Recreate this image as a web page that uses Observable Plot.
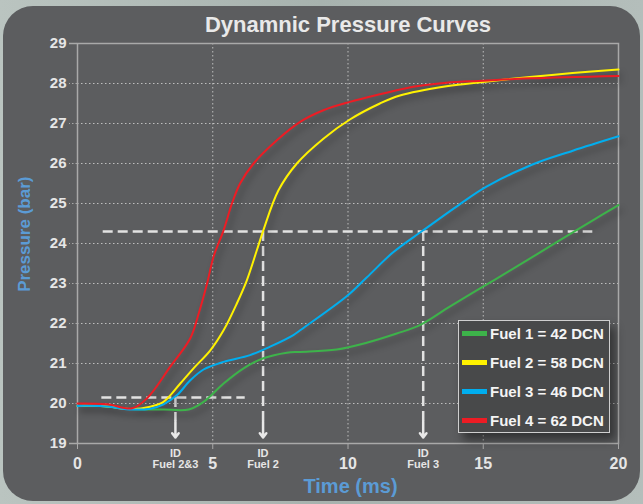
<!DOCTYPE html>
<html><head><meta charset="utf-8">
<script src="https://cdn.jsdelivr.net/npm/d3@7"></script>
<script src="https://cdn.jsdelivr.net/npm/@observablehq/plot@0.6"></script>
<style>
html,body{margin:0;padding:0;background:#aeb9b5;}
#wrap{position:relative;width:643px;height:504px;overflow:hidden;background:linear-gradient(90deg,#bac4c0,#a7b2ae 50%,#b4bebb);}
#panel{position:absolute;left:3px;top:6px;width:637px;height:495px;background:#5c5d5f;border-radius:30px;}
#chart{position:absolute;left:0;top:0;}
#legend{position:absolute;left:458px;top:320px;width:152px;height:113px;background:#48494a;border:1.5px solid #cfcfcf;box-shadow:5px 7px 9px rgba(0,0,0,0.45);box-sizing:border-box;font:bold 15px "Liberation Sans",Arial,sans-serif;color:#f4f4f4;}
.row{position:absolute;left:3px;height:20px;display:flex;align-items:center;white-space:nowrap;}
.sw{width:25px;height:5px;margin-right:3px;}
</style></head>
<body>
<div id="wrap"><div id="panel"></div><div id="chart"></div><div id="legend"></div></div>
<script>
// ---- data ----
const fuelNames = ["Fuel 1 = 42 DCN", "Fuel 2 = 58 DCN", "Fuel 3 = 46 DCN", "Fuel 4 = 62 DCN"];
const fuelColors = ["#3db34a", "#fff200", "#00aeef", "#ed1c24"];

const fuel1T = [0, 1.0, 2.0, 2.7, 3.2, 4.11, 4.66, 5.40, 6.14, 6.87, 7.74, 8.23, 9.58, 10.69, 11.80, 12.66, 13.76, 14.99, 16.23, 17.82, 19.05, 20];
const fuel1P = [19.94, 19.93, 19.86, 19.85, 19.85, 19.85, 20.04, 20.5, 20.88, 21.13, 21.27, 21.29, 21.35, 21.52, 21.75, 21.96, 22.42, 22.92, 23.42, 24.08, 24.58, 24.96];

const fuel2T = [0, 1.0, 2.0, 2.69, 3.18, 3.80, 4.29, 4.91, 5.40, 5.89, 6.26, 6.63, 6.87, 7.43, 8.11, 9.09, 10.07, 11.18, 11.92, 13.64, 15.0, 16.72, 18.3, 20];
const fuel2P = [19.94, 19.93, 19.86, 19.92, 20.04, 20.5, 20.88, 21.33, 21.83, 22.5, 23.08, 23.83, 24.33, 25.33, 26.0, 26.62, 27.1, 27.5, 27.7, 27.93, 28.04, 28.16, 28.26, 28.35];

const fuel3T = [0, 0.97, 2.02, 2.69, 3.18, 3.68, 4.17, 4.66, 5.40, 6.38, 7.12, 7.98, 8.23, 9.95, 10.69, 11.67, 12.78, 14.13, 15.12, 16.84, 18.31, 20];
const fuel3P = [19.94, 19.93, 19.85, 19.87, 19.98, 20.21, 20.58, 20.85, 21.04, 21.21, 21.42, 21.71, 21.83, 22.68, 23.15, 23.78, 24.33, 24.98, 25.42, 25.98, 26.32, 26.68];

const fuel4T = [0, 1.10, 2.02, 2.57, 3.43, 4.17, 4.48, 4.79, 5.03, 5.40, 5.71, 6.01, 6.51, 7.37, 8.23, 9.09, 10.07, 11.18, 12.41, 13.64, 15.0, 16.72, 20];
const fuel4P = [20.0, 19.98, 19.88, 20.13, 20.92, 21.63, 22.25, 23.0, 23.67, 24.33, 25.0, 25.5, 26.0, 26.58, 27.04, 27.33, 27.54, 27.73, 27.92, 28.02, 28.07, 28.13, 28.19];

// ignition-delay markers
const idTimes = [3.62, 6.86, 12.78];
const idLevels = [20.15, 24.3, 24.3];
const idLabels = ["ID\nFuel 2&3", "ID\nFuel 2", "ID\nFuel 3"];
const levelValues = [20.15, 24.3];
const levelStarts = [0.9, 0.95];
const levelEnds = [6.2, 19.05];

const xTicks = [0, 5, 10, 15, 20];
const yTicks = [19, 20, 21, 22, 23, 24, 25, 26, 27, 28, 29];
const arrowTop = 19.55, arrowTip = 19.15;

const titleText = "Dynamnic Pressure Curves";
const xLabel = "Time (ms)";
const yLabel = "Pressure (bar)";

// ---- build ----
const seriesT = [fuel1T, fuel2T, fuel3T, fuel4T];
const seriesP = [fuel1P, fuel2P, fuel3P, fuel4P];
const drawOrder = [0, 1, 2, 3];
const rows = drawOrder.flatMap(i => seriesT[i].map((t, j) => ({fuel: fuelNames[i], t, p: seriesP[i][j]})));
const idData = idTimes.map((t, i) => ({t, level: idLevels[i], label: idLabels[i]}));
const levelData = levelValues.map((v, i) => ({v, x1: levelStarts[i], x2: levelEnds[i]}));

const font = "Liberation Sans, Arial, sans-serif";
const tickCol = "#a9a9a9";
const textCol = "#e6e6e6";
const dash = {stroke: "#e2e2e2", strokeWidth: 2.5, strokeDasharray: "10,5"};

const plot = Plot.plot({
  width: 643, height: 504,
  marginLeft: 77, marginRight: 25, marginTop: 43, marginBottom: 61,
  style: {background: "transparent", fontFamily: font, overflow: "visible"},
  x: {domain: [0, 20]},
  y: {domain: [19, 29]},
  color: {domain: fuelNames, range: fuelColors},
  marks: [
    Plot.gridY(yTicks.slice(1, -1), {stroke: "#cfcfcf", strokeOpacity: 0.85, strokeDasharray: "1.5,2.5"}),
    Plot.gridX(xTicks.slice(1, -1), {stroke: "#cfcfcf", strokeOpacity: 0.85, strokeDasharray: "1.5,2.5"}),
    Plot.frame({stroke: tickCol, strokeWidth: 1.5}),
    Plot.axisY(yTicks, {tickSize: 8, tickPadding: 3, stroke: tickCol, strokeDasharray: "1.5,2", fill: textCol, fontSize: 15, fontWeight: "bold", label: null}),
    Plot.axisY([19, 29], {tickSize: 8, stroke: tickCol, strokeWidth: 1.5, fill: "none", label: null}),
    Plot.axisX(xTicks, {tickSize: 6, tickPadding: 8, stroke: tickCol, fill: textCol, fontSize: 16, fontWeight: "bold", label: null}),
    Plot.ruleY(levelData, {y: "v", x1: "x1", x2: "x2", ...dash}),
    Plot.ruleX(idData, {x: "t", y1: "level", y2: () => arrowTop, ...dash}),
    Plot.arrow(idData, {x1: "t", x2: "t", y1: () => arrowTop, y2: () => arrowTip, stroke: "#e8e8e8", strokeWidth: 2.5, headLength: 11, headAngle: 75}),
    Plot.line(rows, {x: "t", y: "p", z: "fuel", stroke: "fuel", strokeWidth: 2, curve: "catmull-rom"}),
    Plot.text(idData, {x: "t", y: () => 19, text: "label", lineAnchor: "top", dy: 6, fontSize: 11, fontWeight: "bold", fill: textCol, lineHeight: 1.0}),
    Plot.text([titleText], {frameAnchor: "top", lineAnchor: "middle", textAnchor: "middle", dy: -18.5, fontSize: 22, fontWeight: "bold", fill: "#e9e9e9"}),
    Plot.text([xLabel], {frameAnchor: "bottom", lineAnchor: "middle", textAnchor: "middle", dy: 43.5, dx: 2.5, fontSize: 20, fontWeight: "bold", fill: "#5b9bd5"}),
    Plot.text([yLabel], {frameAnchor: "middle", lineAnchor: "middle", textAnchor: "middle", rotate: -90, dx: -323, dy: -9.3, fontSize: 17, fontWeight: "bold", fill: "#5b9bd5"})
  ]
});
document.getElementById("chart").appendChild(plot);
d3.select(plot).selectAll('g[aria-label="line"]').style("filter", "drop-shadow(3px 5px 3px rgba(0,0,0,0.35))");

// legend
const leg = d3.select("#legend");
fuelNames.forEach((name, i) => {
  const row = leg.append("div").attr("class", "row").style("top", (2 + i * 29) + "px");
  row.append("div").attr("class", "sw").style("background", fuelColors[i]);
  row.append("span").text(name);
});
</script>
</body></html>
